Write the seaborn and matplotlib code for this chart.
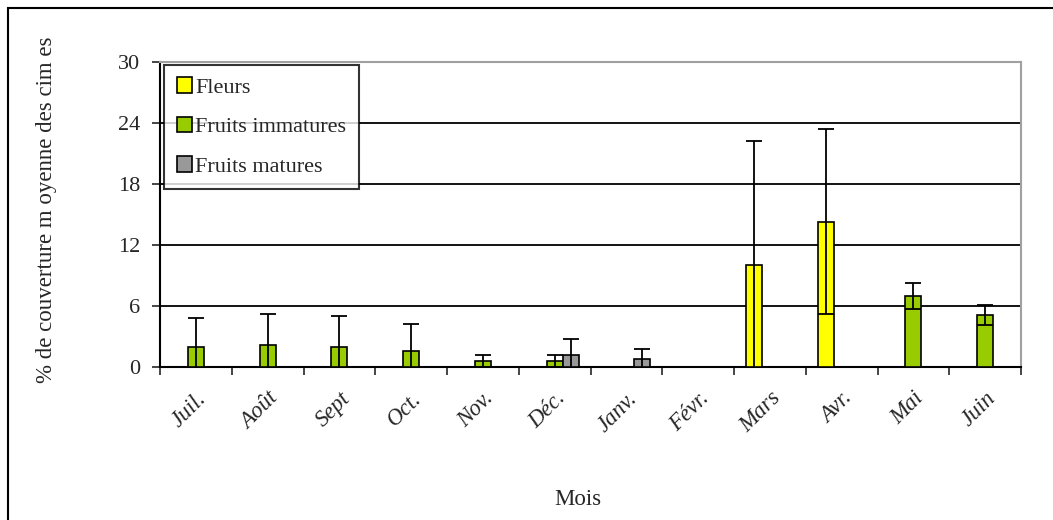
import numpy as np
import pandas as pd
import seaborn as sns
import matplotlib.pyplot as plt
from matplotlib.patches import Rectangle

# Values (NaN = no bar)
months = ['Juil.', 'Août', 'Sept', 'Oct.', 'Nov.', 'Déc.',
          'Janv.', 'Févr.', 'Mars', 'Avr.', 'Mai', 'Juin']
series = ['Fleurs', 'Fruits immatures', 'Fruits matures']

fleurs = [np.nan] * 8 + [10.0, 14.3, np.nan, np.nan]
fleurs_err = [np.nan] * 8 + [12.2, 9.1, np.nan, np.nan]

immatures = [2.0, 2.2, 2.0, 1.6, 0.6, 0.6, np.nan, np.nan, np.nan, np.nan, 7.0, 5.1]
immatures_err = [2.8, 3.0, 3.0, 2.6, 0.6, 0.6, np.nan, np.nan, np.nan, np.nan, 1.3, 1.0]

matures = [np.nan] * 5 + [1.2, 0.8] + [np.nan] * 5
matures_err = [np.nan] * 5 + [1.6, 1.0] + [np.nan] * 5

colors = ['#FFFF00', '#99CC00', '#999999']
yticks = [0, 6, 12, 18, 24, 30]

rows = []
for name, vals, errs in zip(series, [fleurs, immatures, matures],
                            [fleurs_err, immatures_err, matures_err]):
    for m, v, e in zip(months, vals, errs):
        if not np.isnan(v):
            rows.append({'mois': m, 'serie': name, 'val': v, 'err': e})
df = pd.DataFrame(rows)

sns.set_style('white')
plt.rcParams['font.family'] = ['Liberation Serif', 'DejaVu Serif']

fig = plt.figure(figsize=(10.53, 5.2), dpi=100)
ax = fig.add_axes([160 / 1053, 1 - 367 / 520, (1021 - 160) / 1053, (367 - 62) / 520])

sns.barplot(data=df, x='mois', y='val', hue='serie', order=months,
            hue_order=series, palette=colors, saturation=1, width=0.67, gap=0,
            edgecolor='black', linewidth=1.2, errorbar=None, ax=ax,
            zorder=3)

# error bars, matched to each bar by its category position
for cont, name in zip(ax.containers, series):
    sub = df[df['serie'] == name].set_index('mois')
    for bar in cont:
        cx = bar.get_x() + bar.get_width() / 2
        m = months[int(round(cx))]
        if m not in sub.index:
            continue
        ax.errorbar(cx, sub.loc[m, 'val'], yerr=sub.loc[m, 'err'],
                    fmt='none', ecolor='black', elinewidth=1.3,
                    capsize=6, capthick=1.3, zorder=4)

ax.set_ylim(0, 30)
ax.set_xlim(-0.5, len(months) - 0.5)
ax.set_yticks(yticks)
ax.set_yticklabels([str(t) for t in yticks], fontsize=16)
for t in yticks[1:-1]:
    ax.axhline(t, color='black', linewidth=1.3, zorder=1)

ax.set_xticks(range(len(months)))
ax.set_xticklabels(months, rotation=45, fontsize=16.5, style='italic',
                   ha='right', va='top', rotation_mode='anchor')
ax.tick_params(axis='x', which='major', length=0, pad=15)
ax.set_xticks(np.arange(-0.5, len(months)), minor=True)
ax.tick_params(axis='x', which='minor', length=6, width=1.2,
               direction='out', bottom=True)
ax.tick_params(axis='y', length=6, width=1.2, direction='out', left=True, pad=8)

for side in ['left', 'bottom']:
    ax.spines[side].set_color('black')
    ax.spines[side].set_linewidth(1.5)
for side in ['top', 'right']:
    ax.spines[side].set_color('#A0A0A0')
    ax.spines[side].set_linewidth(1.5)
    ax.spines[side].set_visible(True)

ax.set_xlabel('Mois', fontsize=16.5)
ax.set_ylabel('% de couverture m oyenne des cim es', fontsize=16.5)
ax.xaxis.set_label_coords(0.485, -0.4)
ax.yaxis.set_label_coords(-0.12, 0.515)

leg = ax.legend(loc='upper left', bbox_to_anchor=(0.005, 0.99), fontsize=16,
                frameon=True, fancybox=False, edgecolor='black',
                handlelength=0.7, handleheight=0.7, handletextpad=0.15,
                labelspacing=0.85, borderpad=0.55, borderaxespad=0)
leg.get_frame().set_linewidth(1.5)
leg.set_zorder(5)

# outer chart border
fig.patches.append(Rectangle((8 / 1053, -0.1), 1.2, 1 - 8 / 520 + 0.1,
                             transform=fig.transFigure, fill=False,
                             edgecolor='black', linewidth=1.5))

fig.savefig('out.png', dpi=100)
